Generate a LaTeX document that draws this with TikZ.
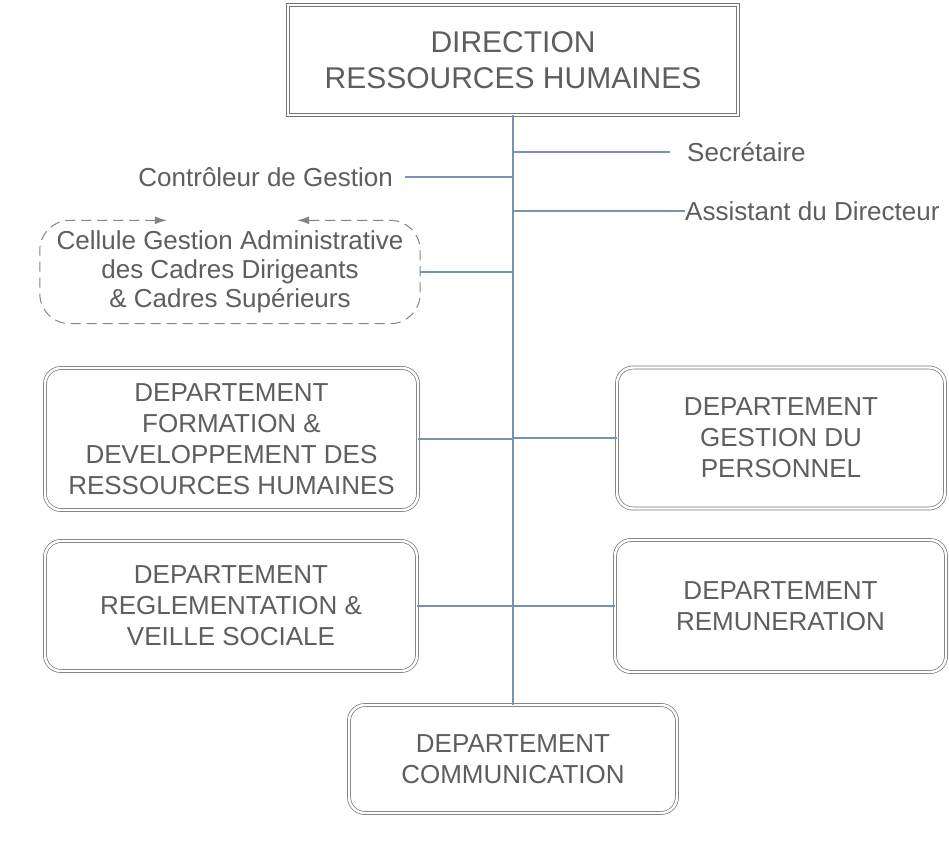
\documentclass[tikz,border=0pt]{standalone}
\usepackage{fontspec}
\setmainfont{Liberation Sans}
\usepackage{tikz}
\usetikzlibrary{positioning, arrows.meta, calc}
\definecolor{inkgray}{HTML}{5E5E5E}
\definecolor{framegray}{HTML}{767676}
\definecolor{dashgray}{HTML}{858585}
\definecolor{linkblue}{HTML}{7893B2}

\begin{document}
\begin{tikzpicture}[x=1pt, y=-1pt,
    deptbox/.style={draw=framegray, double, double distance=2.4pt, line width=0.7pt,
          rounded corners=16pt, align=center, text=inkgray,
          font=\fontsize{26}{31}\selectfont},
    link/.style={draw=linkblue, line width=1.1pt},
    role/.style={text=inkgray, font=\fontsize{26}{31}\selectfont, inner sep=0pt}]
    \fill[white] (0,0) rectangle (949,853);
    \useasboundingbox (0,0) rectangle (949,853);
    \node[deptbox, rounded corners=0pt, minimum width=450pt, minimum height=110pt,
          font=\fontsize{30}{36}\selectfont] (drh) at (513,60) {DIRECTION\\RESSOURCES HUMAINES};
    \node[role, anchor=west] (secr) at (687,152) {Secrétaire};
    \node[role, anchor=east] (ctrl) at (393,177) {Contrôleur de Gestion};
    \node[role, anchor=west] (asst) at (685,211) {Assistant du Directeur};
    \node[role, align=center, minimum width=380pt, minimum height=103pt,
          font=\fontsize{26}{29}\selectfont] (cell) at (230,272) {Cellule Gestion Administrative\\des Cadres Dirigeants\\\& Cadres Supérieurs};
    \node[deptbox, minimum width=373pt, minimum height=142pt] (form) at (231.5,439)
          {DEPARTEMENT\\FORMATION \&\\DEVELOPPEMENT DES\\RESSOURCES HUMAINES};
    \node[deptbox, minimum width=328pt, minimum height=141pt] (gest) at (781,438)
          {DEPARTEMENT\\GESTION DU\\PERSONNEL};
    \node[deptbox, minimum width=372pt, minimum height=130pt] (regl) at (231,606)
          {DEPARTEMENT\\REGLEMENTATION \&\\VEILLE SOCIALE};
    \node[deptbox, minimum width=331pt, minimum height=132pt] (remu) at (780.5,606)
          {DEPARTEMENT\\REMUNERATION};
    \node[deptbox, minimum width=328pt, minimum height=108pt] (comm) at (513,759)
          {DEPARTEMENT\\COMMUNICATION};
    \draw[dashgray, line width=1pt, dash pattern=on 10pt off 6pt, rounded corners=30pt,
          {Latex[length=12pt,width=8pt]}-{Latex[length=12pt,width=8pt]}]
          ([xshift=127pt]cell.north west) -- (cell.north west) -- (cell.south west)
          -- (cell.south east) -- (cell.north east) -- ([xshift=-123pt]cell.north east);
    \draw[link] (drh.south) -- (drh.south |- comm.north);
    \draw[link] (secr.west -| drh.south) -- ([xshift=-17pt]secr.west);
    \draw[link] ([xshift=12pt]ctrl.east) -- (ctrl.east -| drh.south);
    \draw[link] (asst.west -| drh.south) -- (asst.west);
    \draw[link] (cell.east) -- (cell.east -| drh.south);
    \draw[link] (form.east) -- (form.east -| drh.south);
    \draw[link] (gest.west) -- (gest.west -| drh.south);
    \draw[link] (regl.east) -- (regl.east -| drh.south);
    \draw[link] (remu.west) -- (remu.west -| drh.south);
\end{tikzpicture}
\end{document}
